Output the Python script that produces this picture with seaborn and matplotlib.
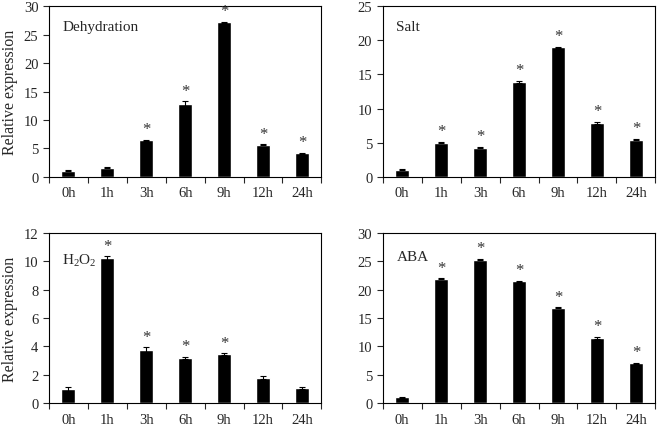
import matplotlib
matplotlib.use("Agg")
import matplotlib.pyplot as plt
import seaborn as sns
import pandas as pd
from matplotlib.ticker import FixedLocator

# time points
times = ["0h", "1h", "3h", "6h", "9h", "12h", "24h"]

# relative expression (mean) per treatment
dehydration = [1.05, 1.55, 6.4, 12.85, 27.2, 5.6, 4.1]
salt = [1.05, 5.0, 4.25, 13.9, 19.0, 7.9, 5.45]
h2o2 = [1.0, 10.2, 3.75, 3.2, 3.45, 1.8, 1.1]
aba = [1.05, 21.9, 25.3, 21.5, 16.8, 11.5, 7.05]

# error bars
dehydration_err = [0.1, 0.1, 0.1, 0.4, 0.1, 0.1, 0.15]
salt_err = [0.1, 0.1, 0.1, 0.2, 0.1, 0.1, 0.1]
h2o2_err = [0.15, 0.15, 0.18, 0.05, 0.06, 0.1, 0.06]
aba_err = [0.1, 0.1, 0.1, 0.1, 0.1, 0.15, 0.1]

# significance markers
dehydration_sig = [False, False, True, True, True, True, True]
salt_sig = [False, True, True, True, True, True, True]
h2o2_sig = [False, True, True, True, True, False, False]
aba_sig = [False, True, True, True, True, True, True]

panels = [
    ("Dehydration", dehydration, dehydration_err, dehydration_sig, 30, 5, True, 0.88),
    ("Salt", salt, salt_err, salt_sig, 25, 5, False, 0.88),
    (r"H$_2$O$_2$", h2o2, h2o2_err, h2o2_sig, 12, 2, True, 0.84),
    ("ABA", aba, aba_err, aba_sig, 30, 5, False, 0.86),
]

sns.set_style("ticks")
plt.rcParams["font.family"] = ["Liberation Serif", "DejaVu Serif"]
plt.rcParams["mathtext.fontset"] = "custom"
plt.rcParams["mathtext.rm"] = "Liberation Serif"
plt.rcParams["mathtext.it"] = "Liberation Serif"

fig, axes = plt.subplots(2, 2, figsize=(6.6, 4.31), dpi=100)
fig.subplots_adjust(left=0.074, right=0.993, top=0.983, bottom=0.062,
                    wspace=0.225, hspace=0.33)

for ax, (name, vals, errs, sig, ymax, ystep, show_ylabel, ty) in zip(axes.flat, panels):
    df = pd.DataFrame({"time": times, "expr": vals})
    sns.barplot(data=df, x="time", y="expr", order=times, color="black",
                width=0.36, errorbar=None, ax=ax, saturation=1)
    xs = range(len(times))
    ax.errorbar(list(xs), vals, yerr=errs, fmt="none", ecolor="black",
                elinewidth=0.8, capsize=2.5, capthick=0.8)
    for x, v, e, s in zip(xs, vals, errs, sig):
        if s:
            ax.annotate("*", (x, v + e), xytext=(0, 2), textcoords="offset points",
                        ha="center", va="bottom", fontsize=12, color="#333333")
    ax.set_ylim(0, ymax)
    ax.set_yticks(range(0, ymax + 1, ystep))
    ax.set_xlim(-0.5, len(times) - 0.5)
    ax.xaxis.set_minor_locator(FixedLocator([i - 0.5 for i in range(len(times) + 1)]))
    ax.tick_params(axis="x", which="major", length=0, labelsize=10.5, pad=7)
    ax.tick_params(axis="x", which="minor", length=4, direction="out", width=0.8)
    ax.tick_params(axis="y", length=4, direction="out", width=0.8, labelsize=10.5)
    for sp in ax.spines.values():
        sp.set_visible(True)
        sp.set_linewidth(0.8)
        sp.set_color("black")
    ax.set_xlabel("")
    ax.set_ylabel("Relative expression" if show_ylabel else "", fontsize=11.5)
    ax.text(0.05, ty, name, transform=ax.transAxes, fontsize=11,
            ha="left", va="center")

fig.savefig("out.png", dpi=100)
